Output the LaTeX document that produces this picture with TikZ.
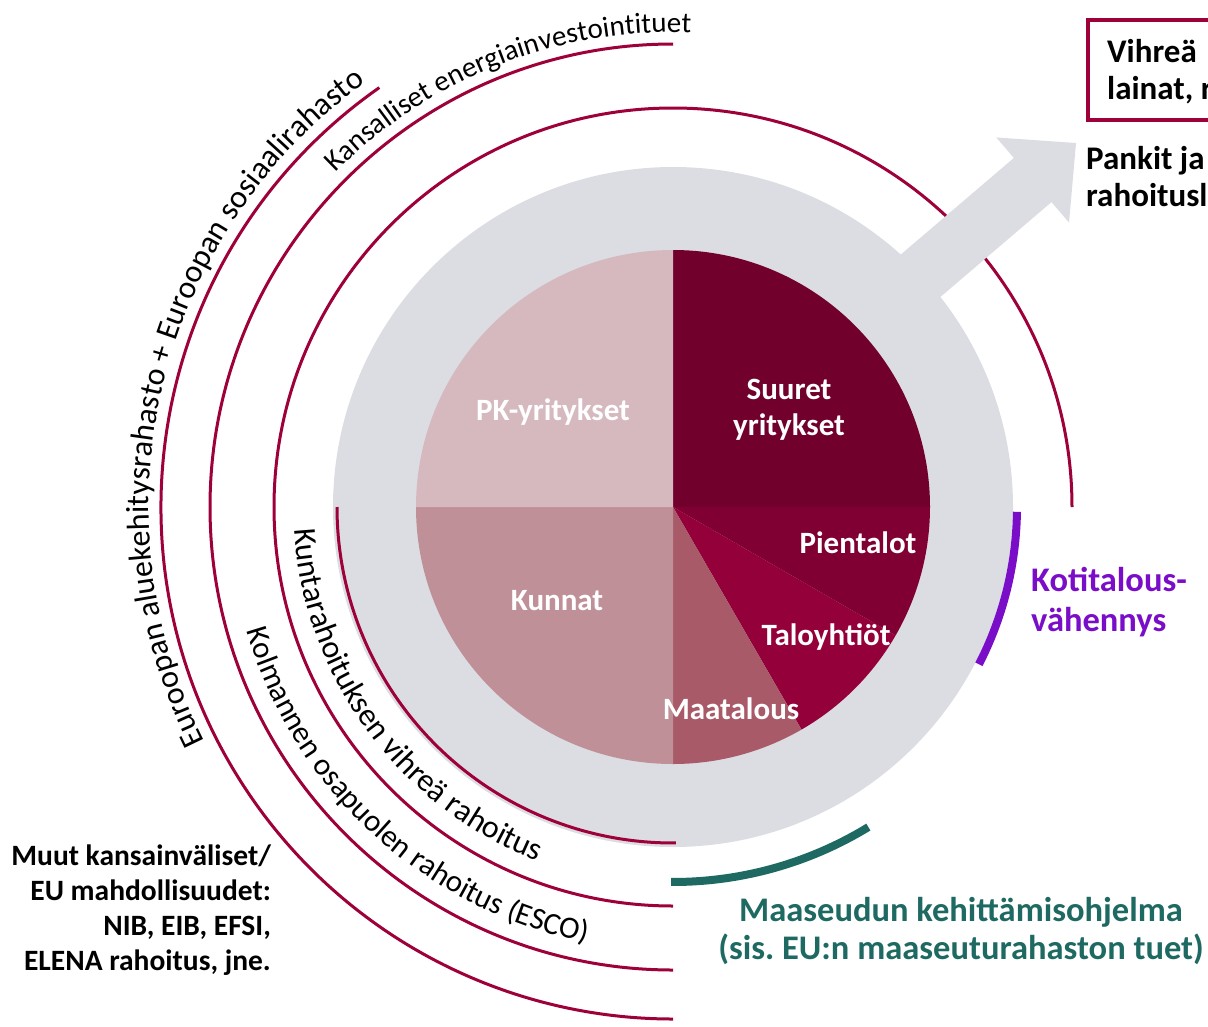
\documentclass[tikz,border=0pt]{standalone}
\usepackage{fontspec}
\setmainfont{Carlito}
\usetikzlibrary{decorations.text}
\frenchspacing
\definecolor{arcred}{RGB}{158,0,58}
\definecolor{ringgray}{RGB}{220,221,226}
\definecolor{cSuuret}{RGB}{113,0,45}
\definecolor{cPien}{RGB}{128,0,52}
\definecolor{cTalo}{RGB}{148,0,58}
\definecolor{cMaa}{RGB}{168,90,105}
\definecolor{cKunnat}{RGB}{192,144,152}
\definecolor{cPK}{RGB}{213,185,191}
\definecolor{kotiviolet}{RGB}{122,14,200}
\definecolor{maateal}{RGB}{30,106,98}
\newcommand\arcfontA{\fontsize{32}{38}\selectfont}
\newcommand\arcfontB{\fontsize{29}{35}\selectfont}
\newcommand\arcfontC{\fontsize{32}{38}\selectfont}
\newcommand\arcfontD{\fontsize{31}{37}\selectfont}
\tikzset{
  redarc/.style={draw=arcred, line width=3pt},
  pielbl/.style={text=white, font=\fontsize{31}{36}\selectfont\bfseries, inner sep=0pt, align=center},
  blacklbl/.style={text=black, font=\fontsize{29.5}{35}\selectfont\bfseries, inner sep=0pt},
  arctext/.style={decorate, decoration={text along path, text align=center}},
}
\begin{document}
\frenchspacing
\begin{tikzpicture}[x=1pt,y=1pt]
\useasboundingbox (0,0) rectangle (1208,-1026);
\clip (0,0) rectangle (1208,-1026);
\coordinate (C) at (673,-507);

% outer arcs (below the ring and arrow)
\draw[redarc] (C) ++(0:399) arc[start angle=0, end angle=270, radius=399];
\draw[redarc] (C) ++(90:463) arc[start angle=90, end angle=270, radius=463];
\draw[redarc] (C) ++(125:512) arc[start angle=125, end angle=270, radius=512];

% gray ring
\fill[ringgray] (C) circle[radius=340];

% arrow
\coordinate (T) at (1076,-143);
\path (T) ++(220.5:57) coordinate (B);
\path (B) ++(130.5:56) coordinate (b1);
\path (B) ++(-49.5:56) coordinate (b2);
\path (B) ++(130.5:29) coordinate (s1);
\path (B) ++(-49.5:29) coordinate (s2);
\path (B) ++(220.5:330) coordinate (K);
\path (K) ++(130.5:29) coordinate (k1);
\path (K) ++(-49.5:29) coordinate (k2);
\fill[ringgray] (k1) -- (s1) -- (b1) -- (T) -- (b2) -- (s2) -- (k2) -- cycle;

% pie
\fill[cSuuret] (C) -- ++(90:257) arc[start angle=90, end angle=0, radius=257] -- cycle;
\fill[cPien] (C) -- ++(0:257) arc[start angle=0, end angle=-30, radius=257] -- cycle;
\fill[cTalo] (C) -- ++(-30:257) arc[start angle=-30, end angle=-60, radius=257] -- cycle;
\fill[cMaa] (C) -- ++(-60:257) arc[start angle=-60, end angle=-90, radius=257] -- cycle;
\fill[cKunnat] (C) -- ++(-90:257) arc[start angle=-90, end angle=-180, radius=257] -- cycle;
\fill[cPK] (C) -- ++(180:257) arc[start angle=180, end angle=90, radius=257] -- cycle;

% inner arc and coloured arcs
\draw[redarc] (C) ++(180:336) arc[start angle=180, end angle=270.5, radius=336];
\draw[draw=kotiviolet, line width=8pt] (C) ++(-0.8:344) arc[start angle=-0.8, end angle=-27.2, radius=344];
\draw[draw=maateal, line width=8pt] (C) ++(-90.3:375) arc[start angle=-90.3, end angle=-58.6, radius=375];

% pie labels
\node[pielbl] (suuret) at (789,-410) {Suuret\\yritykset};
\node[pielbl] (pk) at (553,-412) {PK-yritykset};
\node[pielbl] (kunnat) at (557,-601) {Kunnat};
\node[pielbl] (pientalot) at (858,-543) {Pientalot};
\node[pielbl] (taloyhtiot) at (826,-637) {Taloyhtiöt};
\node[pielbl] (maatalous) at (731,-709) {Maatalous};

% texts along arcs
\path[arctext, decoration={text={|\arcfontA|Euroopan aluekehitysrahasto + Euroopan sosiaalirahasto}}]
  (C) ++(208:524) arc[start angle=208, end angle=124.5, radius=524];
\path[arctext, decoration={text={|\arcfontB|Kansalliset energiainvestointituet}}]
  (C) ++(135.5:475) arc[start angle=135.5, end angle=87.6, radius=475];
\path[arctext, decoration={text={|\arcfontC|Kuntarahoituksen vihreä rahoitus}}]
  (C) ++(183.5:379) arc[start angle=183.5, end angle=248.8, radius=379];
\path[arctext, decoration={text={|\arcfontD|Kolmannen osapuolen rahoitus (ESCO)}}]
  (C) ++(196.5:444) arc[start angle=196.5, end angle=258.4, radius=444];

% other labels
\node[blacklbl, anchor=east, align=right] (muut) at (271,-910)
  {Muut kansainväliset/\\EU mahdollisuudet:\\NIB, EIB, EFSI,\\ELENA rahoitus, jne.};
\node[text=kotiviolet, font=\fontsize{34.5}{40}\selectfont\bfseries, inner sep=0pt, anchor=west, align=left] (koti) at (1031,-602)
  {Kotitalous-\\vähennys};
\node[text=maateal, font=\fontsize{34.5}{38}\selectfont\bfseries, inner sep=0pt, align=center] (maaseutu) at (961,-931)
  {Maaseudun kehittämisohjelma\\(sis. EU:n maaseuturahaston tuet)};
\draw[arcred, line width=4pt] (1088,-20) rectangle (1240,-120);
\node[font=\fontsize{33}{37}\selectfont\bfseries, inner sep=0pt, anchor=west, align=left] (vihrea) at (1107,-71.5)
  {Vihreä\\lainat, r};
\node[font=\fontsize{33}{37}\selectfont\bfseries, inner sep=0pt, anchor=west, align=left] (pankit) at (1086,-176.5)
  {Pankit ja\\rahoitusl};
\end{tikzpicture}
\end{document}
